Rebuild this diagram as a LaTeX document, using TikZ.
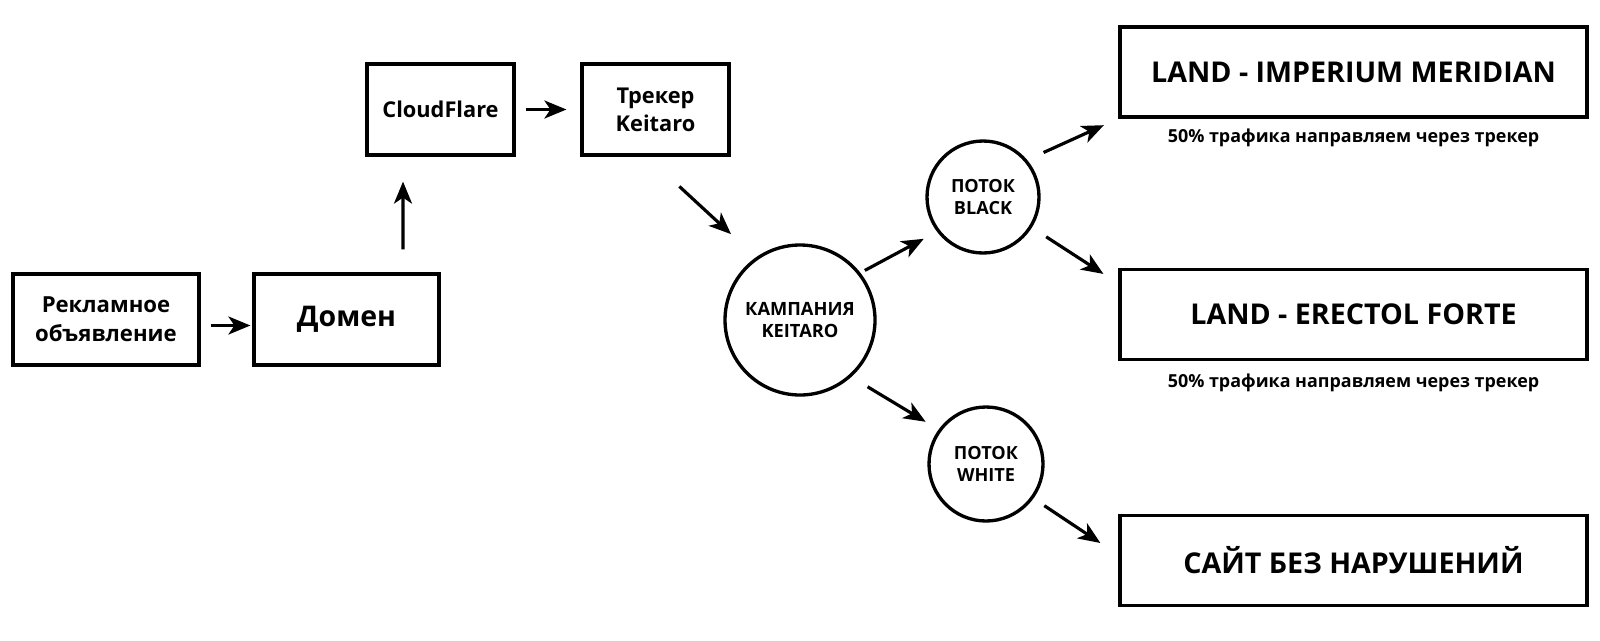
\documentclass[tikz,border=0pt]{standalone}
\usepackage{fontspec}
\setmainfont{Open Sans}
\usetikzlibrary{arrows.meta}

\begin{document}
\begin{tikzpicture}[
  every node/.style={font=\bfseries},
  smallbox/.style={rectangle,draw=black,line width=0.9pt,minimum height=0.91cm,
    align=center,inner sep=0pt},
  landbox/.style={rectangle,draw=black,line width=0.9pt,minimum width=4.67cm,
    minimum height=0.9cm,align=center,inner sep=0pt,font=\fontsize{8.15}{9}\selectfont\bfseries},
  flowcircle/.style={circle,draw=black,line width=0.95pt,align=center,inner sep=0pt},
  notetext/.style={font=\fontsize{5.1}{6}\selectfont\bfseries},
  fwdarrow/.style={-{Stealth[length=2.2mm,width=1.8mm,inset=0.6mm]},line width=0.9pt},
]

\useasboundingbox (0,0) rectangle (16,6.4);
\fill[white] (0,0) rectangle (16,6.4);

% ---------- Source chain ----------
\node[smallbox,minimum width=1.86cm,font=\fontsize{6.3}{8.2}\selectfont\bfseries] (AD) at (1.06,3.205) {Рекламное\\объявление};
\node[smallbox,minimum width=1.85cm,font=\fontsize{8.1}{10}\selectfont\bfseries] (DOM) at (3.465,3.205) {Домен};
\node[smallbox,minimum width=1.47cm,font=\fontsize{6.2}{8}\selectfont\bfseries] (CF) at (4.405,5.305) {CloudFlare};
\node[smallbox,minimum width=1.47cm,font=\fontsize{6.2}{8}\selectfont\bfseries] (TRK) at (6.555,5.305) {Трекер\\Keitaro};

% ---------- Campaign and flows ----------
\node[flowcircle,minimum size=1.5cm,font=\fontsize{5.2}{6.5}\selectfont\bfseries] (CAMP) at (8.0,3.2) {КАМПАНИЯ\\KEITARO};
\node[flowcircle,minimum size=1.12cm,font=\fontsize{5.15}{6.5}\selectfont\bfseries] (BLACK) at (9.83,4.43) {ПОТОК\\BLACK};
\node[flowcircle,minimum size=1.14cm,font=\fontsize{5.15}{6.5}\selectfont\bfseries] (WHITE) at (9.86,1.76) {ПОТОК\\WHITE};

% ---------- Landings ----------
\node[landbox] (L1) at (13.535,5.68) {LAND - IMPERIUM MERIDIAN};
\node[notetext] (N1) at (13.535,5.025) {50\% трафика направляем через трекер};
\node[landbox] (L2) at (13.535,3.255) {LAND - ERECTOL FORTE};
\node[notetext] (N2) at (13.535,2.575) {50\% трафика направляем через трекер};
\node[landbox] (SITE) at (13.535,0.795) {САЙТ БЕЗ НАРУШЕНИЙ};

% ---------- Arrows ----------
\draw[fwdarrow,shorten <=1mm,shorten >=0.2mm] ([yshift=-0.6mm]AD.east) -- ([yshift=-0.6mm]DOM.west);
\draw[fwdarrow,shorten <=2.3mm,shorten >=2.5mm] ([xshift=5.65mm]DOM.north) -- ([xshift=-3.75mm]CF.south);
\draw[fwdarrow,shorten <=1mm,shorten >=1.4mm] (CF.east) -- (TRK.west);
\draw[fwdarrow,shorten <=4.4mm,shorten >=3.4mm] ([xshift=-0.85mm]TRK.south) -- (CAMP.125);
\draw[fwdarrow,shorten <=0.5mm,shorten >=1.5mm] (CAMP.38) -- (BLACK.217);
\draw[fwdarrow,shorten <=1.9mm,shorten >=1.5mm] (CAMP.-48) -- (WHITE.144);
\draw[fwdarrow,shorten <=1.8mm,shorten >=1.6mm] (BLACK.40) -- (L1.south west);
\draw[fwdarrow,shorten <=1.7mm] (BLACK.-32) -- ([shift={(-1.5mm,-0.6mm)}]L2.north west);
\draw[fwdarrow,shorten <=1.3mm] (WHITE.-36) -- ([shift={(-1.8mm,1.75mm)}]SITE.west);

\end{tikzpicture}
\end{document}
